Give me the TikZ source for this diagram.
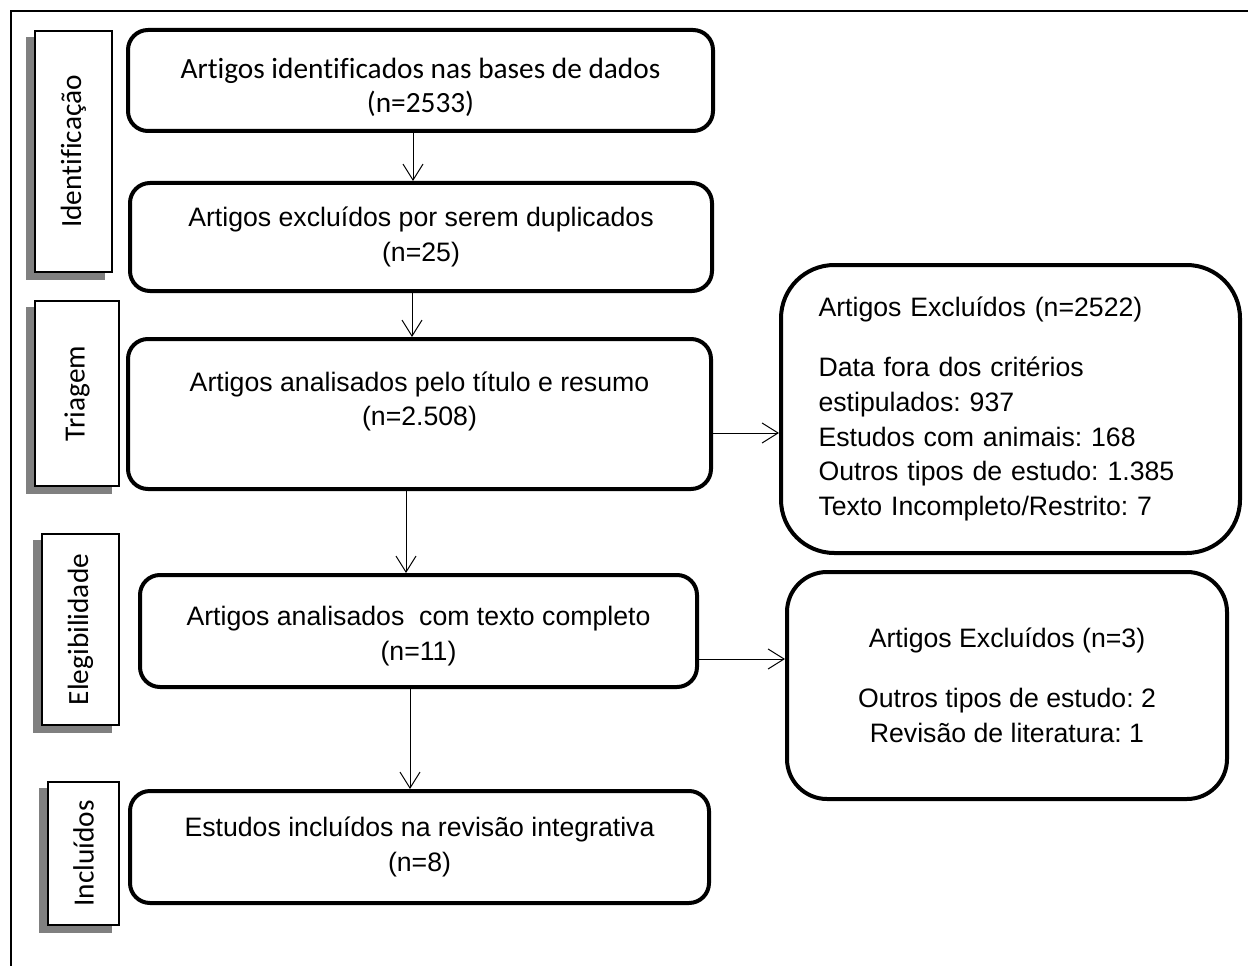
\documentclass[tikz,border=0pt]{standalone}
\usepackage{fontspec}
\setmainfont{Liberation Sans}
\newfontfamily\calibri[Ligatures=NoCommon]{Carlito}
\usetikzlibrary{arrows.meta,calc,backgrounds}
\frenchspacing

\tikzset{every picture/.style={line width=0.75pt}}
\tikzset{
	caixa/.style={draw, rounded corners=15pt, line width=3pt, fill=white, align=center, font=\fontsize{20}{26}\selectfont},
	fase/.style={draw, line width=1pt, fill=white, rotate=90, font=\calibri\fontsize{22}{26}\selectfont},
	seta/.style={-{Straight Barb[length=12pt,width=15pt]}, line width=0.75pt}
}

\begin{document}
\begin{tikzpicture}[x=0.75pt,y=0.75pt,yscale=-1,xscale=1]
	\useasboundingbox (0,0) rectangle (1248,966);

	%Frame
	\draw [line width=1.5pt] (1248,11) -- (11,11) -- (11,966) ;

	% Phases
	\node [fase, minimum width=180.75pt, minimum height=57.75pt] (fase1) at (73.5,151.5) {Identificação};
	\node [fase, minimum width=138.75pt, minimum height=63pt] (fase2) at (77,393.5) {Triagem};
	\node [fase, minimum width=143.25pt, minimum height=57.75pt] (fase3) at (80.5,629.5) {Elegibilidade};
	\node [fase, minimum width=107.25pt, minimum height=53.25pt] (fase4) at (83.5,853.5) {Incluídos};
	\begin{scope}[on background layer]
		\foreach \f in {fase1,fase2,fase3,fase4}
			\fill [gray] ($(\f.south west)+(-8,7)$) rectangle ($(\f.north east)+(-8,7)$) ;
	\end{scope}

	% Flow boxes
	\node [caixa, minimum width=438.75pt, minimum height=75.75pt, font=\calibri\fontsize{22}{25.5}\selectfont] (ident) at (420.5,80.5) {\rule{0pt}{26pt}Artigos identificados nas bases de dados\\(n=2533)};
	\node [caixa, minimum width=436.5pt, minimum height=81pt] (dupl) at (421,237) {Artigos excluídos por serem duplicados\\(n=25)};
	\node [caixa, minimum width=437.25pt, minimum height=112.5pt, text depth=23pt] (triag) at (419.5,414) {Artigos analisados pelo título e resumo\\(n=2.508)};
	\node [caixa, minimum width=417.75pt, minimum height=84pt] (compl) at (418.5,631) {\rule{0pt}{22pt}Artigos analisados\ \ com texto completo\\(n=11)};
	\node [caixa, minimum width=434.25pt, minimum height=84pt] (incl) at (419.5,847) {Estudos incluídos na revisão integrativa\\(n=8)};

	% Excluded
	\node [caixa, rounded corners=40pt, minimum width=344.25pt, minimum height=216pt, text width=288pt, align=left] (excl1) at (1010.5,409) {Artigos Excluídos (n=2522)\\[19pt]Data fora dos critérios\\estipulados: 937\\Estudos com animais: 168\\Outros tipos de estudo: 1.385\\Texto Incompleto/Restrito: 7};
	\node [caixa, rounded corners=30pt, minimum width=330pt, minimum height=170.25pt] (excl2) at (1007,685.5) {Artigos Excluídos (n=3)\\[19pt]Outros tipos de estudo: 2\\Revisão de literatura: 1};

	% Arrows
	\coordinate (s1) at ($(ident.south)+(-7.5,0)$);
	\coordinate (s2) at ($(dupl.south)+(-9,0)$);
	\coordinate (s3) at ($(triag.south)+(-13.5,0)$);
	\coordinate (s4) at ($(compl.south)+(-8.5,0)$);
	\coordinate (s5) at ($(triag.east)+(0,19)$);
	\coordinate (s6) at ($(compl.east)+(0,28)$);
	\draw [seta] (s1) -- (s1 |- dupl.north) ;
	\draw [seta] (s2) -- (s2 |- triag.north) ;
	\draw [seta] (s3) -- (s3 |- compl.north) ;
	\draw [seta] (s4) -- (s4 |- incl.north) ;
	\draw [seta] (s5) -- (s5 -| excl1.west) ;
	\draw [seta] (s6) -- (s6 -| excl2.west) ;

\end{tikzpicture}
\end{document}
